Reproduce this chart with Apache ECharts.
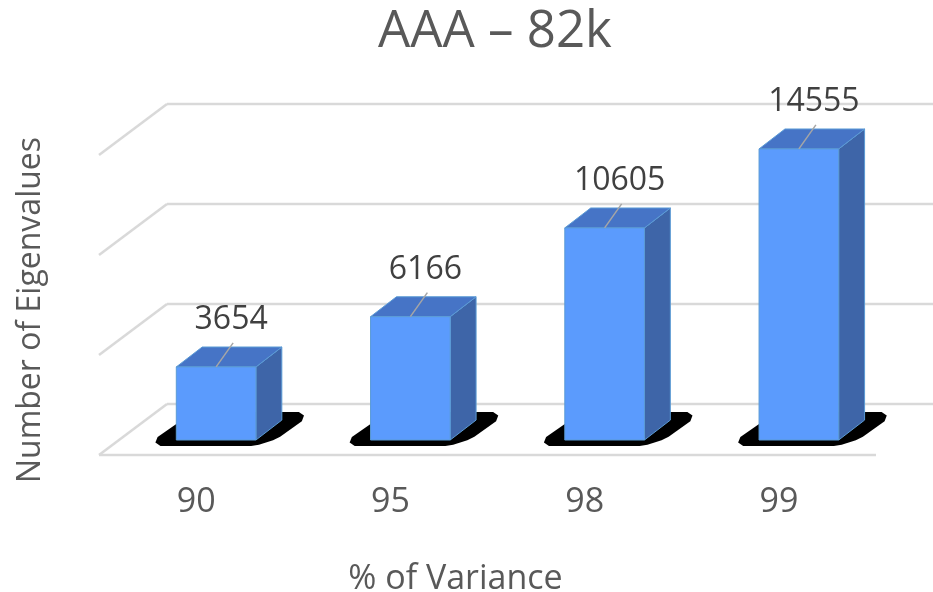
<!DOCTYPE html>
<html>
<head>
<meta charset="utf-8">
<script src="https://cdn.jsdelivr.net/npm/echarts@6/dist/echarts.min.js"></script>
<style>
  html, body { margin: 0; padding: 0; background: #ffffff; }
  #chart { width: 933px; height: 592px; }
</style>
</head>
<body>
<div id="chart"></div>
<script>
// Variance thresholds and the number of eigenvalues needed to reach them
const categories = ['90', '95', '98', '99'];
const eigenCounts = [3654, 6166, 10605, 14555];
const valueTicks = [0, 5000, 10000, 15000];

const FONT = '"Open Sans", "Noto Sans", sans-serif';
const TEXT_GREY = '#595959';
const GRID_GREY = '#D9D9D9';

// Pseudo-3D offsets (pixels) relative to the plane of the bar fronts
const WALL_BACK = [48, -36];
const WALL_FRONT = [-20, 15];

function chamfer(points, r) {
  // Cut every corner of a closed polygon a little to soften it
  const out = [];
  const n = points.length;
  for (let k = 0; k < n; k++) {
    const p = points[k];
    const prev = points[(k + n - 1) % n];
    const next = points[(k + 1) % n];
    const d1 = Math.hypot(prev[0] - p[0], prev[1] - p[1]);
    const d2 = Math.hypot(next[0] - p[0], next[1] - p[1]);
    const r1 = Math.min(r, d1 / 2), r2 = Math.min(r, d2 / 2);
    out.push([p[0] + (prev[0] - p[0]) * r1 / d1, p[1] + (prev[1] - p[1]) * r1 / d1]);
    out.push([p[0] + (next[0] - p[0]) * r2 / d2, p[1] + (next[1] - p[1]) * r2 / d2]);
  }
  return out;
}

function renderWall(params, api) {
  const cs = params.coordSys;
  const v = api.value(1);
  const y = api.coord([0, v])[1];
  const line = { stroke: GRID_GREY, lineWidth: 2.5 };
  const children = [
    { type: 'line', shape: { x1: cs.x + WALL_BACK[0], y1: y + WALL_BACK[1], x2: cs.x + cs.width + WALL_BACK[0], y2: y + WALL_BACK[1] }, style: line },
    { type: 'line', shape: { x1: cs.x + WALL_FRONT[0], y1: y + WALL_FRONT[1], x2: cs.x + WALL_BACK[0], y2: y + WALL_BACK[1] }, style: line }
  ];
  if (v === 0) {
    children.push({ type: 'line', shape: { x1: cs.x + WALL_FRONT[0], y1: y + WALL_FRONT[1], x2: cs.x + cs.width + WALL_FRONT[0], y2: y + WALL_FRONT[1] }, style: line });
  }
  return { type: 'group', children: children };
}

function renderBar(params, api) {
  const i = api.value(0);
  const v = api.value(1);
  const top = api.coord([i, v]);
  const base = api.coord([i, 0]);
  const w = api.size([1, 0])[0] * 0.41;
  const xc = top[0];
  const x0 = xc - w / 2, x1 = xc + w / 2;
  const yT = top[1], yB = base[1];
  const dx = w * 0.325, dy = -w * 0.25;
  const edge = '#5B9BD5';

  // Floor shadow: a softened parallelogram under the bar
  const shadow = chamfer(chamfer([
    [x0 - w * 0.40, yB + 6],
    [x1 + w * 0.14, yB + 6],
    [x1 + w * 0.74, yB - 28],
    [x0 + w * 0.22, yB - 28]
  ], 12), 4);

  return {
    type: 'group',
    children: [
      { type: 'polygon', shape: { points: shadow }, style: { fill: '#000000' } },
      { type: 'polygon', shape: { points: [[x1, yB], [x1 + dx, yB + dy], [x1 + dx, yT + dy], [x1, yT]] },
        style: { fill: '#3E65A8', stroke: edge, lineWidth: 1 } },
      { type: 'polygon', shape: { points: [[x0, yT], [x1, yT], [x1 + dx, yT + dy], [x0 + dx, yT + dy]] },
        style: { fill: '#4674C6', stroke: edge, lineWidth: 1 } },
      { type: 'rect', shape: { x: x0, y: yT, width: w, height: yB - yT },
        style: { fill: '#5B9BFD', stroke: edge, lineWidth: 1 } },
      { type: 'line', shape: { x1: xc, y1: yT, x2: xc + 17, y2: yT - 24 },
        style: { stroke: '#A6A6A6', lineWidth: 1.5 } },
      { type: 'text', x: xc + 15, y: yT - 47,
        style: { text: String(v), align: 'center', verticalAlign: 'middle',
                 fontSize: 32, fontFamily: FONT, fill: '#404040' } }
    ]
  };
}

const chart = echarts.init(document.getElementById('chart'), null, { renderer: 'canvas' });
chart.setOption({
  backgroundColor: '#ffffff',
  animation: false,
  title: {
    text: 'AAA – 82k',
    left: 378,
    top: 7,
    padding: 0,
    textStyle: { fontSize: 51, fontWeight: 'normal', color: TEXT_GREY, fontFamily: FONT }
  },
  grid: { left: 119, top: 140, width: 777, height: 300, outerBoundsMode: 'none', containLabel: false },
  xAxis: {
    type: 'category',
    data: categories,
    axisLine: { show: false },
    axisTick: { show: false },
    splitLine: { show: false },
    axisLabel: { fontSize: 34, color: TEXT_GREY, fontFamily: FONT, margin: 45, padding: [0, 40, 0, 0] },
    name: '% of Variance',
    nameLocation: 'middle',
    nameGap: 122,
    nameTextStyle: { fontSize: 34, color: TEXT_GREY, fontFamily: FONT, padding: [0, 104, 0, 0] }
  },
  yAxis: {
    type: 'value',
    min: 0,
    max: 15000,
    interval: 5000,
    axisLine: { show: false },
    axisTick: { show: false },
    axisLabel: { show: false },
    splitLine: { show: false },
    name: 'Number of Eigenvalues',
    nameLocation: 'middle',
    nameGap: 72,
    nameTextStyle: { fontSize: 32, color: TEXT_GREY, fontFamily: FONT, padding: [0, 40, 0, 0] }
  },
  series: [
    {
      type: 'custom',
      name: 'walls',
      silent: true,
      clip: false,
      z: 1,
      data: valueTicks.map(v => [0, v]),
      renderItem: renderWall
    },
    {
      type: 'custom',
      name: 'Number of Eigenvalues',
      clip: false,
      z: 2,
      data: eigenCounts.map((v, i) => [i, v]),
      renderItem: renderBar
    }
  ]
});
</script>
</body>
</html>
